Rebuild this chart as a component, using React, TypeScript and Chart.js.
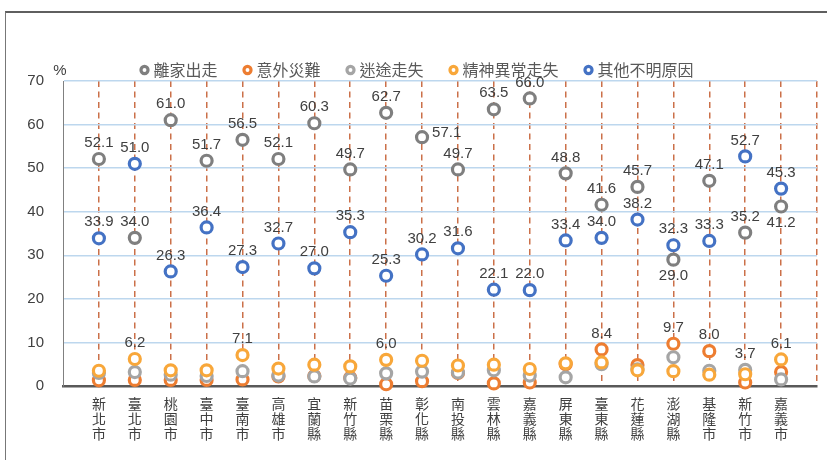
import React, { useEffect, useRef } from 'react';
import { Chart, registerables } from 'chart.js';

Chart.register(...registerables);

const categories = ['新北市', '臺北市', '桃園市', '臺中市', '臺南市', '高雄市', '宜蘭縣', '新竹縣', '苗栗縣', '彰化縣', '南投縣', '雲林縣', '嘉義縣', '屏東縣', '臺東縣', '花蓮縣', '澎湖縣', '基隆市', '新竹市', '嘉義市'];

const seriesNames = ['離家出走', '意外災難', '迷途走失', '精神異常走失', '其他不明原因'];

const runaway = [52.1, 34.0, 61.0, 51.7, 56.5, 52.1, 60.3, 49.7, 62.7, 57.1, 49.7, 63.5, 66.0, 48.8, 41.6, 45.7, 29.0, 47.1, 35.2, 41.2];
const accident = [1.3, 1.4, 1.4, 1.4, 1.5, 2.2, 2.3, 1.9, 0.4, 1.1, 3.0, 0.6, 0.8, 5.0, 8.4, 4.8, 9.7, 8.0, 0.8, 3.2];
const lost = [3.0, 3.2, 2.6, 2.3, 3.4, 2.4, 2.2, 1.7, 2.9, 3.3, 3.1, 3.6, 2.4, 2.0, 5.0, 3.8, 6.6, 3.5, 3.7, 1.5];
const mental = [3.5, 6.2, 3.6, 3.6, 7.1, 4.0, 4.9, 4.5, 6.0, 5.8, 4.7, 4.9, 3.9, 5.2, 5.4, 3.6, 3.4, 2.6, 2.7, 6.1];
const other = [33.9, 51.0, 26.3, 36.4, 27.3, 32.7, 27.0, 35.3, 25.3, 30.2, 31.6, 22.1, 22.0, 33.4, 34.0, 38.2, 32.3, 33.3, 52.7, 45.3];

const seriesValues = [runaway, accident, lost, mental, other];
const seriesColors = ['#7F7F7F', '#ED7D31', '#A5A5A5', '#F8A73A', '#4472C4'];

const allIdx = categories.map((_, i) => i);
// which points carry a value label (per series)
const labeledPoints = [allIdx, [14, 16, 17], [18], [1, 4, 8, 19], allIdx];
// label placement exceptions: [series, category]
const labelsBelow = [[0, 16], [0, 19]];
const labelsRight = [[0, 9]];

const yMin = 0;
const yMax = 70;
const yStep = 10;

const NUM_FONT = "'Liberation Sans', Arial, 'Noto Sans CJK TC', sans-serif";
const CJK_FONT = "'Noto Sans CJK TC', 'Liberation Sans', sans-serif";

const has = (list: number[][], s: number, i: number) => list.some(([a, b]) => a === s && b === i);

const labelPlugin = {
  id: 'valueLabels',
  afterDatasetsDraw(chart: any) {
    const ctx = chart.ctx;
    ctx.save();
    ctx.font = `15px ${NUM_FONT}`;
    ctx.fillStyle = '#404040';
    ctx.textBaseline = 'middle';
    chart.data.datasets.forEach((ds: any, di: number) => {
      const meta = chart.getDatasetMeta(di);
      meta.data.forEach((pt: any, i: number) => {
        if (!labeledPoints[di].includes(i)) return;
        const txt = seriesValues[di][i].toFixed(1);
        if (has(labelsRight, di, i)) {
          ctx.textAlign = 'left';
          ctx.fillText(txt, pt.x + 10, pt.y - 4);
        } else if (has(labelsBelow, di, i)) {
          ctx.textAlign = 'center';
          ctx.fillText(txt, pt.x, pt.y + 16);
        } else {
          ctx.textAlign = 'center';
          ctx.fillText(txt, pt.x, pt.y - 16);
        }
      });
    });
    const area = chart.chartArea;
    ctx.textAlign = 'center';
    ctx.font = `15px ${NUM_FONT}`;
    ctx.fillText('%', area.left - 3, area.top - 10);
    ctx.restore();
  },
};

export default function App() {
  const ref = useRef<HTMLCanvasElement | null>(null);

  useEffect(() => {
    if (!ref.current) return;
    const datasets = seriesNames.map((name, s) => ({
      label: name,
      data: seriesValues[s].map((v, i) => ({ x: i + 1, y: v })),
      showLine: false,
      order: seriesNames.length - 1 - s,
      borderColor: seriesColors[s],
      backgroundColor: '#FFFFFF',
      pointBorderColor: seriesColors[s],
      pointBackgroundColor: '#FFFFFF',
      pointBorderWidth: 3.2,
      pointRadius: 5.5,
      pointHoverRadius: 5.5,
      pointHoverBorderWidth: 3.2,
      clip: false as any,
    }));

    const chart = new Chart(ref.current, {
      type: 'scatter',
      data: { datasets },
      plugins: [labelPlugin],
      options: {
        animation: false,
        responsive: false,
        maintainAspectRatio: false,
        layout: { padding: { left: 19, right: 9, top: 33, bottom: 0 } },
        plugins: {
          tooltip: { enabled: false },
          legend: {
            position: 'top',
            maxHeight: 48,
            labels: {
              usePointStyle: true,
              pointStyle: 'circle',
              boxWidth: 2,
              boxHeight: 5,
              padding: 29,
              color: '#595959',
              font: { size: 16, family: CJK_FONT },
              sort: (a: any, b: any) => a.datasetIndex - b.datasetIndex,
            },
          },
        },
        scales: {
          x: {
            type: 'linear',
            min: 0,
            max: categories.length + 1,
            ticks: {
              stepSize: 1,
              maxTicksLimit: 40,
              autoSkip: false,
              maxRotation: 0,
              minRotation: 0,
              padding: 10,
              color: '#404040',
              font: { size: 14, family: CJK_FONT, lineHeight: '15px' },
              callback: (v: any) => {
                const c = categories[Number(v) - 1];
                return c ? c.split('') : '';
              },
            },
            grid: {
              color: (c: any) => (c.tick && c.tick.value === 0 ? 'rgba(0,0,0,0)' : '#CB7049'),
              lineWidth: 1.5,
              drawTicks: false,
            },
            border: { color: '#595959', width: 2.5, dash: [6, 4.5] },
            afterFit: (s: any) => {
              s.height = 74;
            },
          },
          y: {
            min: yMin,
            max: yMax,
            ticks: {
              stepSize: yStep,
              padding: 19,
              color: '#404040',
              font: { size: 15, family: NUM_FONT },
            },
            grid: {
              color: (c: any) => (c.tick && c.tick.value === 0 ? 'rgba(0,0,0,0)' : '#BDD7EE'),
              lineWidth: 1.5,
              drawTicks: false,
            },
            border: { color: '#808080', width: 1 },
            afterFit: (s: any) => {
              s.width = 44;
            },
          },
        },
      } as any,
    });
    return () => chart.destroy();
  }, []);

  return (
    <div style={{ position: 'fixed', left: 0, top: 0, width: 827, height: 460, background: '#fff', overflow: 'hidden' }}>
      <div
        style={{
          position: 'absolute',
          left: 5,
          top: 11,
          width: 900,
          height: 600,
          borderLeft: '1.5px solid #777',
          borderTop: '2px solid #5f5f5f',
        }}
      />
      <canvas ref={ref} width={827} height={460} style={{ position: 'absolute', left: 0, top: 0, width: 827, height: 460 }} />
    </div>
  );
}
